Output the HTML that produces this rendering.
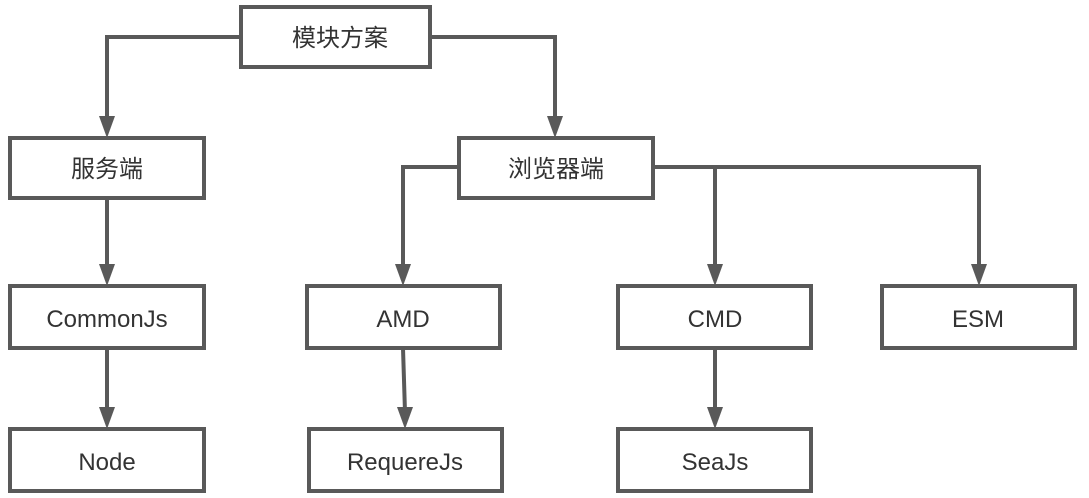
<!DOCTYPE html>
<html><head><meta charset="utf-8"><style>
html,body{margin:0;padding:0;background:#fff;}
svg{display:block;}
text{font-family:"Liberation Sans","Noto Sans CJK SC",sans-serif;font-size:24px;fill:#333;}
</style></head><body>
<svg width="1089" height="498" viewBox="0 0 1089 498" xmlns="http://www.w3.org/2000/svg">
<g fill="none" stroke="#595959" stroke-width="4">
<polyline points="241,37 107,37 107,122"/>
<polyline points="430,37 555,37 555,122"/>
<polyline points="459,167 403,167 403,270"/>
<polyline points="653,167 979,167 979,270"/>
<line x1="715" y1="167" x2="715" y2="270"/>
<line x1="107" y1="198" x2="107" y2="270"/>
<line x1="107" y1="348" x2="107" y2="412"/>
<line x1="403" y1="348" x2="405" y2="412"/>
<line x1="715" y1="348" x2="715" y2="412"/>
</g>
<g fill="#595959">
<polygon points="99,116 115,116 107,138"/>
<polygon points="547,116 563,116 555,138"/>
<polygon points="395,264 411,264 403,286"/>
<polygon points="707,264 723,264 715,286"/>
<polygon points="971,264 987,264 979,286"/>
<polygon points="99,264 115,264 107,286"/>
<polygon points="99,407 115,407 107,429"/>
<polygon points="397,407 413,407 405,429"/>
<polygon points="707,407 723,407 715,429"/>
</g>
<g fill="#fff" stroke="#595959" stroke-width="4">
<rect x="241" y="7" width="189" height="60"/>
<rect x="10" y="138" width="194" height="60"/>
<rect x="459" y="138" width="194" height="60"/>
<rect x="10" y="286" width="194" height="62"/>
<rect x="307" y="286" width="193" height="62"/>
<rect x="618" y="286" width="193" height="62"/>
<rect x="882" y="286" width="193" height="62"/>
<rect x="10" y="429" width="194" height="62"/>
<rect x="309" y="429" width="193" height="62"/>
<rect x="618" y="429" width="193" height="62"/>
</g>
<g text-anchor="middle">
<text x="340" y="46">模块方案</text>
<text x="107" y="177">服务端</text>
<text x="556" y="177">浏览器端</text>
<text x="107" y="327">CommonJs</text>
<text x="403" y="327">AMD</text>
<text x="715" y="327">CMD</text>
<text x="978" y="327">ESM</text>
<text x="107" y="470">Node</text>
<text x="405" y="470">RequereJs</text>
<text x="715" y="470">SeaJs</text>
</g>
</svg>
</body></html>
